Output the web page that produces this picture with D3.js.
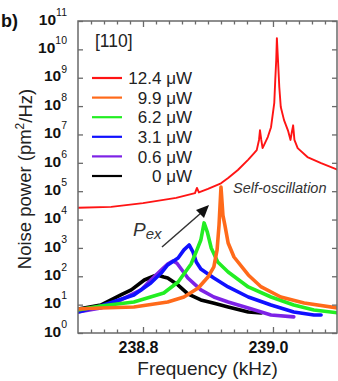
<!DOCTYPE html>
<html><head><meta charset="utf-8">
<script src="https://cdn.jsdelivr.net/npm/d3@7"></script>
<style>body{margin:0;background:#fff}svg{display:block;font-family:"Liberation Sans",Arial,sans-serif}</style>
</head><body>
<svg id="c" width="338" height="381"></svg>
<script>
// ---- data (frequency in kHz, noise power in pm^2/Hz) ----
const majorFreqTicks = [238.8, 239.0];
const majorFreqLabels = ["238.8", "239.0"];
const minorFreqTicks = [238.72,238.74,238.76,238.78,238.82,238.84,238.86,238.88,238.90,238.92,238.94,238.96,238.98,239.02,239.04,239.06,239.08];
const powerExponents = [0,1,2,3,4,5,6,7,8,9,10,11];
const seriesLabels = ["12.4 \u03bcW","9.9 \u03bcW","6.2 \u03bcW","3.1 \u03bcW","0.6 \u03bcW","0 \u03bcW"];

const blackFreq  = [238.700,238.735,238.766,238.782,238.802,238.817,238.822,238.832,238.838,238.854,238.869,238.889,238.908,238.931,238.962,238.982];
const blackPower = [7.0,9.7,21.9,33,74,102,111,94,87,49,24,14.6,11.4,8.3,5.5,5.1];

const purpleFreq  = [238.700,238.735,238.766,238.797,238.812,238.828,238.838,238.846,238.852,238.860,238.869,238.889,238.909,238.931,238.962,238.997,239.032];
const purplePower = [5.5,7.6,14.6,33,74,166,270,345,293,166,87,33,18.6,12.4,7.6,4.3,3.7];

const blueFreq  = [238.700,238.735,238.786,238.812,238.828,238.838,238.854,238.863,238.871,238.877,238.882,238.889,238.909,238.931,238.962,238.997,239.032,239.063,239.074];
const bluePower = [5.5,9.0,21.9,58,130,250,440,850,1270,710,318,180,87,42,18.6,9.7,5.5,4.3,4.3];

const greenFreq  = [238.700,238.735,238.786,238.832,238.854,238.874,238.883,238.889,238.894,238.899,238.905,238.915,238.931,238.962,238.997,239.032,239.063,239.100];
const greenPower = [6.5,8.9,12.4,25.8,63,270,850,1900,7600,3600,993,318,142,42,18.6,9.7,6.5,5.1];

const orangeFreq  = [238.700,238.735,238.786,238.838,238.863,238.885,238.900,238.909,238.914,238.917,238.920,238.923,238.926,238.931,238.940,238.962,238.982,239.012,239.048,239.100];
const orangePower = [7.0,7.6,8.3,12.4,18.6,38.6,94,213,850,6400,1.4e5,1.4e4,6400,1490,478,111,42,18.6,11.4,7.6];

const redFreq  = [238.700,238.751,238.800,238.851,238.880,238.883,238.886,238.900,238.920,238.931,238.946,238.962,238.971,238.975,238.9785,238.980,238.982,238.984,238.992,238.997,239.002,239.0035,239.005,239.006,239.0077,239.0097,239.012,239.017,239.023,239.027,239.029,239.031,239.033,239.038,239.053,239.074,239.100];
const redPower = [2.6e4,2.8e4,3.8e4,5.8e4,8.5e4,1.3e5,9.0e4,1.2e5,1.9e5,2.9e5,5.6e5,1.3e6,2.2e6,2.8e6,6.4e6,1.4e7,6.4e6,3.3e6,8.1e6,1.8e7,1.3e8,8.3e8,4.2e9,2.5e10,4.2e9,4.7e8,9.3e7,3.2e7,1.4e7,6.4e6,1.2e7,2.1e7,6.4e6,3.3e6,1.6e6,9.8e5,5.6e5];

// ---- build ----
const series = [
  {label: seriesLabels[5], color: "#000000", f: blackFreq,  p: blackPower,  w: 3.6},
  {label: seriesLabels[4], color: "#7d22e6", f: purpleFreq, p: purplePower, w: 3.6},
  {label: seriesLabels[3], color: "#1010ff", f: blueFreq,   p: bluePower,   w: 3.6},
  {label: seriesLabels[2], color: "#22ee22", f: greenFreq,  p: greenPower,  w: 3.6},
  {label: seriesLabels[1], color: "#ff6a1a", f: orangeFreq, p: orangePower, w: 3.6},
  {label: seriesLabels[0], color: "#ff1414", f: redFreq,    p: redPower,    w: 1.9}
];

const L = 78, R = 337, T = 21, B = 333;
const x = d3.scaleLinear().domain([238.7, 239.0985]).range([L, R]);
const y = d3.scaleLog().domain([1, 1e11]).range([B, T]);

const svg = d3.select("#c");
const axisColor = "#6a6a6a";

svg.append("defs").append("clipPath").attr("id","clip")
  .append("rect").attr("x",L).attr("y",T).attr("width",R-L).attr("height",B-T);

const line = d3.line().x(d => x(d[0])).y(d => y(d[1])).curve(d3.curveLinear);
const gData = svg.append("g").attr("clip-path","url(#clip)");
series.forEach(s => {
  gData.append("path")
    .datum(s.f.map((f,i) => [f, s.p[i]]))
    .attr("d", line).attr("fill","none")
    .attr("stroke", s.color).attr("stroke-width", s.w)
    .attr("stroke-linejoin","round").attr("stroke-linecap","round");
});

// frame
svg.append("rect").attr("x",L).attr("y",T).attr("width",R-L).attr("height",B-T)
  .attr("fill","none").attr("stroke",axisColor).attr("stroke-width",1.5);

function styleAxis(g){
  g.select(".domain").remove();
  g.selectAll(".tick line").attr("stroke",axisColor).attr("stroke-width",1.3);
}

// bottom
svg.append("g").attr("transform",`translate(0,${B})`)
  .call(d3.axisBottom(x).tickValues(minorFreqTicks).tickSizeInner(-3.5).tickSizeOuter(0).tickFormat(""))
  .call(styleAxis);
const bx = svg.append("g").attr("transform",`translate(0,${B})`)
  .call(d3.axisBottom(x).tickValues(majorFreqTicks).tickSizeInner(-6).tickSizeOuter(0).tickPadding(8)
    .tickFormat((d,i) => majorFreqLabels[i]))
  .call(styleAxis);
bx.selectAll("text").attr("font-size","16px").attr("font-weight","bold").attr("fill","#111")
  .attr("font-family","'Liberation Sans',Arial,sans-serif").attr("dx",-5).attr("y",9);

// top
svg.append("g").attr("transform",`translate(0,${T})`)
  .call(d3.axisTop(x).tickValues(minorFreqTicks).tickSizeInner(-3.5).tickSizeOuter(0).tickFormat(""))
  .call(styleAxis);
svg.append("g").attr("transform",`translate(0,${T})`)
  .call(d3.axisTop(x).tickValues(majorFreqTicks).tickSizeInner(-6).tickSizeOuter(0).tickFormat(""))
  .call(styleAxis);

// left
const powerTicks = powerExponents.map(e => Math.pow(10, e));
const ly = svg.append("g").attr("transform",`translate(${L},0)`)
  .call(d3.axisLeft(y).tickValues(powerTicks).tickSizeInner(-5).tickSizeOuter(0).tickPadding(11).tickFormat(""))
  .call(styleAxis);
ly.selectAll(".tick text").each(function(d){
  const t = d3.select(this).attr("fill","#111").attr("font-family","'Liberation Sans',Arial,sans-serif");
  t.append("tspan").attr("font-size","15.5px").attr("font-weight","bold").text("10");
  t.append("tspan").attr("font-size","10.5px").attr("dy","-0.85em").text(Math.round(Math.log10(d)));
});
// right
svg.append("g").attr("transform",`translate(${R},0)`)
  .call(d3.axisRight(y).tickValues(powerTicks).tickSizeInner(-5).tickSizeOuter(0).tickFormat(""))
  .call(styleAxis);

// axis titles
svg.append("text").attr("x",(L+R)/2).attr("y",375).attr("text-anchor","middle")
  .attr("font-size","19px").attr("fill","#222").text("Frequency (kHz)");
const yt = svg.append("text").attr("transform",`translate(31,${(T+B)/2+2}) rotate(-90)`)
  .attr("text-anchor","middle").attr("font-size","18.5px").attr("fill","#222");
yt.append("tspan").text("Noise power (pm");
yt.append("tspan").attr("font-size","12px").attr("dy","-0.6em").text("2");
yt.append("tspan").attr("dy","0.45em").text("/Hz)");

// panel label
svg.append("text").attr("x",1).attr("y",27).attr("font-size","18px").attr("font-weight","bold")
  .attr("fill","#111").text("b)");

// [110]
svg.append("text").attr("x",95).attr("y",47).attr("font-size","17.5px").attr("fill","#222").text("[110]");

// legend
const legendOrder = [5,4,3,2,1,0];
legendOrder.forEach((si,i) => {
  const s = series[si];
  const yy = 78 + i*19.6;
  svg.append("line").attr("x1",92).attr("x2",122).attr("y1",yy).attr("y2",yy)
    .attr("stroke",s.color).attr("stroke-width",2.2);
  svg.append("text").attr("x",192).attr("y",yy).attr("dy","0.36em").attr("text-anchor","end")
    .attr("font-size","17px").attr("fill","#222").text(s.label);
});

// Self-oscillation
svg.append("text").attr("x",233).attr("y",193).attr("font-size","14.5px").attr("font-style","italic")
  .attr("fill","#333").text("Self-oscillation");

// P_ex and arrow
const pt = svg.append("text").attr("x",133).attr("y",236).attr("font-style","italic").attr("fill","#333");
pt.append("tspan").attr("font-size","19px").text("P");
pt.append("tspan").attr("font-size","15px").attr("dy","3").text("ex");
svg.append("line").attr("x1",162).attr("y1",247).attr("x2",201).attr("y2",213)
  .attr("stroke","#333").attr("stroke-width",1.5);
svg.append("path").attr("d","M209,205 L196,210 L204,218 Z").attr("fill","#111");
</script>
</body></html>
